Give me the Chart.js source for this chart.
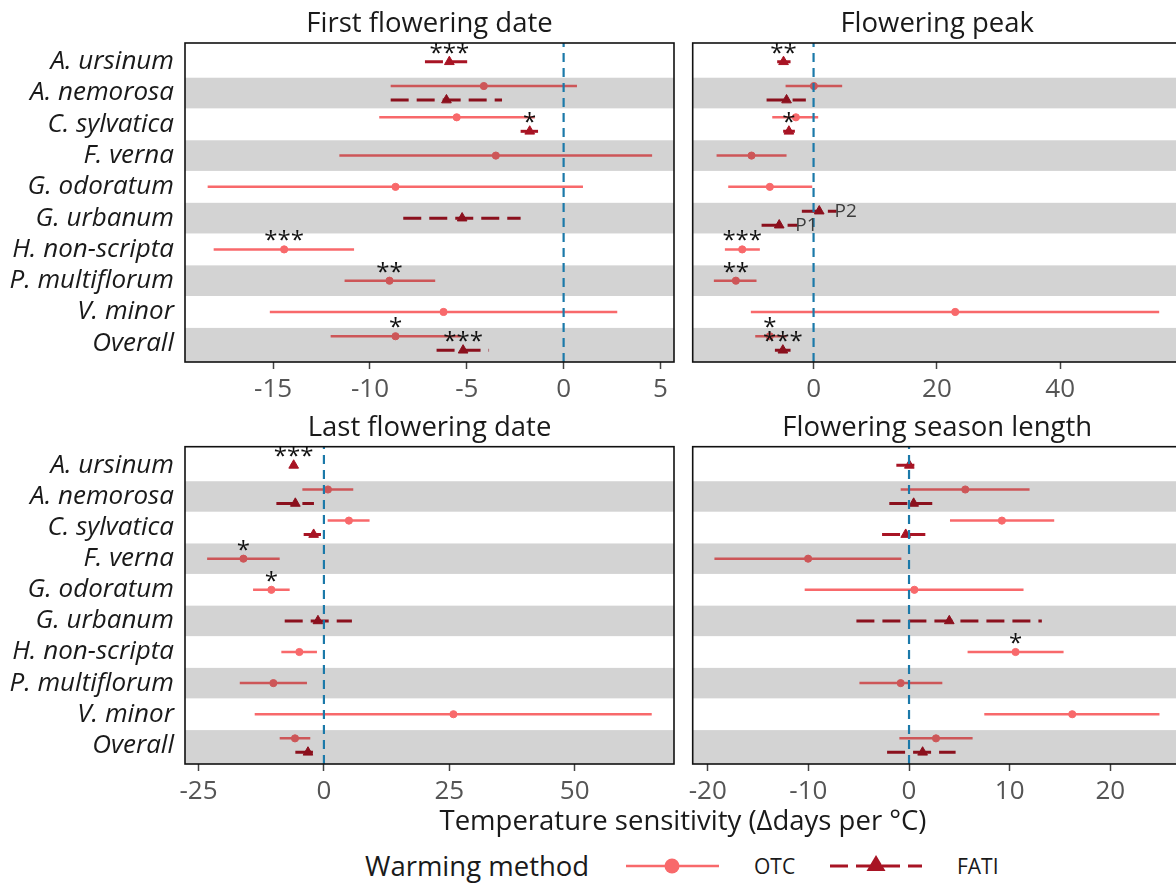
<!DOCTYPE html>
<html><head><meta charset="utf-8">
<script src="https://cdn.jsdelivr.net/npm/chart.js@4.4.1/dist/chart.umd.min.js"></script>
<style>
html,body{margin:0;padding:0;background:#fff;overflow:hidden;width:1176px;height:883px;}
#wrap{position:relative;width:1176px;height:883px;overflow:hidden;font-family:'Open Sans',sans-serif;}
canvas{position:absolute;}
.txt{position:absolute;white-space:nowrap;color:#1a1a1a;}
</style></head><body><div id="wrap">
<canvas id="c1" width="690" height="410" style="left:0;top:0"></canvas>
<canvas id="c2" width="520" height="410" style="left:680px;top:0"></canvas>
<canvas id="c3" width="690" height="410" style="left:0;top:400px"></canvas>
<canvas id="c4" width="520" height="410" style="left:680px;top:400px"></canvas>
<div class="txt" id="xtitle" style="left:683px;top:803px;font-size:27.5px;line-height:34px;transform:translateX(-50%);">Temperature sensitivity (Δdays per °C)</div>
<div class="txt" style="left:365px;top:850px;font-size:27.5px;line-height:32px;">Warming method</div>
<svg style="position:absolute;left:0;top:846px" width="1176" height="40">
 <line x1="626" y1="20" x2="719" y2="20" stroke="#F8696B" stroke-width="2.5"/>
 <circle cx="672" cy="20" r="7.5" fill="#F8696B"/>
 <line x1="830" y1="20" x2="922" y2="20" stroke="#A81424" stroke-width="3" stroke-dasharray="18 8"/>
 <polygon points="876,9 866.5,25 885.5,25" fill="#A81424"/>
</svg>
<div class="txt" style="left:754px;top:853px;font-size:21px;line-height:26px;">OTC</div>
<div class="txt" style="left:957px;top:853px;font-size:21px;line-height:26px;">FATI</div>
</div>
<script>
const FONT = "'Open Sans', sans-serif";
const OTC_COL = '#F8696B';
const FATI_COL = '#A81424';

const species = ["A. ursinum","A. nemorosa","C. sylvatica","F. verna","G. odoratum","G. urbanum","H. non-scripta","P. multiflorum","V. minor","Overall"];

const firstTicks = [-15,-10,-5,0,5];
const peakTicks = [0,20,40];
const lastTicks = [-25,0,25,50];
const lengthTicks = [-20,-10,0,10,20];

// First flowering date
const firstOtcEst = [null,-4.12,-5.52,-3.5,-8.68,null,-14.43,-8.99,-6.2,-8.68];
const firstOtcLo  = [null,-8.93,-9.52,-11.58,-18.38,null,-18.07,-11.31,-15.17,-12.03];
const firstOtcHi  = [null,0.69,-1.49,4.57,1.0,null,-10.82,-6.63,2.77,-5.31];
const firstOtcStars = [null,null,null,null,null,null,"***","**",null,"*"];
const firstFatiEst = [-5.9,-6.05,-1.75,null,null,-5.24,null,null,null,-5.19];
const firstFatiLo  = [-7.16,-8.93,-2.22,null,null,-8.28,null,null,null,-6.56];
const firstFatiHi  = [-4.98,-3.18,-1.32,null,null,-2.22,null,null,null,-3.85];
const firstFatiStars = ["***",null,"*",null,null,null,null,null,null,"***"];

// Flowering peak
const peakOtcEst = [null,0.05,-2.87,-10.06,-7.09,null,-11.57,-12.6,22.97,-7.1];
const peakOtcLo  = [null,-4.54,-6.7,-15.73,-13.84,null,-14.38,-16.17,-10.17,-9.46];
const peakOtcHi  = [null,4.64,0.75,-4.38,-0.22,null,-8.71,-9.25,56.05,-4.38];
const peakOtcStars = [null,null,null,null,null,null,"***","**",null,"*"];
const peakFatiEst = [-4.87,-4.38,-4.0,null,null,null,null,null,null,-4.98];
const peakFatiLo  = [-5.9,-7.62,-4.93,null,null,null,null,null,null,-6.27];
const peakFatiHi  = [-3.73,-1.25,-3.03,null,null,null,null,null,null,-3.73];
const peakFatiStars = ["**",null,"*",null,null,null,null,null,null,"***"];
const peakUrbanumLabels = ["P2","P1"];
const peakUrbanumEst = [0.92,-5.57];
const peakUrbanumLo  = [-1.9,-8.43];
const peakUrbanumHi  = [3.73,-2.65];

// Last flowering date
const lastOtcEst = [null,0.8,4.98,-16.05,-10.48,null,-4.9,-10.08,25.82,-5.77];
const lastOtcLo  = [null,-4.3,0.74,-23.29,-14.13,null,-8.49,-16.78,-13.8,-8.82];
const lastOtcHi  = [null,5.85,9.1,-8.82,-6.83,null,-1.39,-3.38,65.36,-2.72];
const lastOtcStars = [null,null,null,"*","*",null,null,null,null,null];
const lastFatiEst = [-6.03,-5.7,-2.05,null,null,-1.19,null,null,null,-3.18];
const lastFatiLo  = [-6.6,-9.48,-4.04,null,null,-7.82,null,null,null,-5.7];
const lastFatiHi  = [-5.5,-1.99,-0.59,null,null,5.58,null,null,null,-2.19];
const lastFatiStars = ["***",null,null,null,null,null,null,null,null,null];

// Flowering season length
const lengthOtcEst = [null,5.59,9.23,-10.03,0.53,null,10.59,-0.83,16.22,2.68];
const lengthOtcLo  = [null,-0.83,4.07,-19.34,-10.37,null,5.82,-4.93,7.48,-0.96];
const lengthOtcHi  = [null,11.98,14.43,-0.76,11.38,null,15.36,3.31,24.89,6.32];
const lengthOtcStars = [null,null,null,null,null,null,"*",null,null,null];
const lengthFatiEst = [0.03,0.46,-0.33,null,null,4.0,null,null,null,1.35];
const lengthFatiLo  = [-1.26,-1.96,-2.68,null,null,-5.23,null,null,null,-2.18];
const lengthFatiHi  = [1.3,2.31,1.62,null,null,13.2,null,null,null,4.63];
const lengthFatiStars = [null,null,null,null,null,null,null,null,null,null];

const DODGE = 0.224;
const STAR_DY = -1;

function buildMarks(o, f, extra){
  const marks = [];
  species.forEach((s,i)=>{
    const hasO = o.est[i]!=null;
    const hasF = f.est[i]!=null || (extra && extra.row===i);
    if(hasO) marks.push({kind:'otc', y:i+(hasF?-DODGE:0), est:o.est[i], lo:o.lo[i], hi:o.hi[i], star:o.stars[i]});
    if(f.est[i]!=null) marks.push({kind:'fati', y:i+(hasO?DODGE:0), est:f.est[i], lo:f.lo[i], hi:f.hi[i], star:f.stars[i]});
  });
  if(extra){
    extra.labels.forEach((lab,k)=>marks.push({kind:'fati', y:extra.row+(k===0?-DODGE:DODGE), est:extra.est[k], lo:extra.lo[k], hi:extra.hi[k], label:lab}));
  }
  return marks;
}

const decor = {
  id:'decor',
  afterDatasetsDraw(chart, args, o){
    const {ctx, chartArea:a, scales:{x,y}} = chart;
    ctx.save();
    ctx.beginPath(); ctx.rect(a.left,a.top,a.right-a.left,a.bottom-a.top); ctx.clip();
    ctx.fillStyle='rgba(0,0,0,0.172)';
    for(let i=1;i<species.length;i+=2){
      const t=y.getPixelForValue(i-0.49);
      const b=(i===species.length-1)?a.bottom:y.getPixelForValue(i+0.49);
      ctx.fillRect(a.left,t,a.right-a.left,b-t);
    }
    const zx=x.getPixelForValue(0);
    ctx.strokeStyle='#1b79a9'; ctx.lineWidth=2.2; ctx.setLineDash([9,6]);
    ctx.beginPath(); ctx.moveTo(zx,a.bottom); ctx.lineTo(zx,a.top); ctx.stroke();
    ctx.setLineDash([]);
    ctx.restore();
    ctx.save();
    ctx.fillStyle='#111'; ctx.font='24px '+FONT; ctx.textAlign='center'; ctx.textBaseline='alphabetic';
    o.marks.forEach(m=>{ if(m.star){ ctx.fillText(m.star, x.getPixelForValue(m.est), y.getPixelForValue(m.y)+STAR_DY); } });
    ctx.fillStyle='#3d3d3d'; ctx.font='19px '+FONT; ctx.textAlign='left'; ctx.textBaseline='middle';
    o.marks.forEach(m=>{ if(m.label){ ctx.fillText(m.label, x.getPixelForValue(m.hi)-2, y.getPixelForValue(m.y)); } });
    ctx.strokeStyle='#111'; ctx.lineWidth=1.6; ctx.strokeRect(a.left,a.top,a.right-a.left,a.bottom-a.top);
    ctx.fillStyle='#1a1a1a'; ctx.font='27.5px '+FONT; ctx.textAlign='center'; ctx.textBaseline='alphabetic';
    ctx.fillText(o.title,(a.left+a.right)/2,a.top-11);
    ctx.restore();
  }
};

function makeChart(id, cfg){
  const marks = cfg.marks;
  const datasets = [];
  marks.forEach(m=>{
    const otc = m.kind==='otc';
    datasets.push({type:'line', data:[{x:m.lo,y:m.y},{x:m.hi,y:m.y}], borderColor: otc?OTC_COL:FATI_COL,
      borderWidth: otc?2.5:3, borderDash: otc?[]:[18,8], borderCapStyle:'butt', pointRadius:0, order:2});
  });
  datasets.push({type:'line', showLine:false, order:0,
    data: marks.filter(m=>m.kind==='otc').map(m=>({x:m.est,y:m.y})),
    pointStyle:'circle', pointRadius:3.6, pointBackgroundColor:OTC_COL, pointBorderColor:OTC_COL, pointBorderWidth:1});
  datasets.push({type:'line', showLine:false, order:0,
    data: marks.filter(m=>m.kind==='fati').map(m=>({x:m.est,y:m.y})),
    pointStyle:'triangle', pointRadius:5.6, pointBackgroundColor:FATI_COL, pointBorderColor:FATI_COL, pointBorderWidth:1});
  return new Chart(document.getElementById(id), {
    type:'line',
    data:{datasets},
    options:{
      responsive:false, animation:false, devicePixelRatio:1, events:[],
      layout:{padding:{top:cfg.padTop, right:cfg.padRight, left:cfg.padLeft, bottom:0}},
      scales:{
        x:{type:'linear', min:cfg.xmin, max:cfg.xmax,
          afterBuildTicks:s=>{ s.ticks = cfg.ticks.map(v=>({value:v})); },
          afterFit:s=>{ s.height = cfg.xh; },
          ticks:{font:{family:FONT,size:26}, color:'#555', padding:5, maxRotation:0, autoSkip:false, callback:v=>String(v)},
          grid:{display:true, drawOnChartArea:false, drawTicks:true, tickLength:7, tickWidth:1.5, tickColor:'#444'},
          border:{display:false}},
        y:{type:'linear', reverse:true, min:-0.6, max:9.6, display:cfg.showY,
          afterBuildTicks:s=>{ s.ticks = species.map((_,i)=>({value:i})); },
          afterFit:s=>{ if(cfg.showY) s.width = cfg.yw; },
          ticks:{font:{family:FONT,size:26,style:'italic'}, color:'#1a1a1a', padding:11, callback:v=>species[v]},
          grid:{display:false, drawTicks:false}, border:{display:false}}
      },
      plugins:{legend:{display:false}, tooltip:{enabled:false}, decor:{title:cfg.title, marks}}
    },
    plugins:[decor]
  });
}

makeChart('c1', {title:'First flowering date', ticks:firstTicks, xmin:-19.55, xmax:5.7,
  padTop:43, padRight:16, padLeft:0, xh:48, showY:true, yw:185,
  marks: buildMarks({est:firstOtcEst,lo:firstOtcLo,hi:firstOtcHi,stars:firstOtcStars},
                    {est:firstFatiEst,lo:firstFatiLo,hi:firstFatiHi,stars:firstFatiStars})});
makeChart('c2', {title:'Flowering peak', ticks:peakTicks, xmin:-19.6, xmax:59.7,
  padTop:43, padRight:18.3, padLeft:12.7, xh:48, showY:false,
  marks: buildMarks({est:peakOtcEst,lo:peakOtcLo,hi:peakOtcHi,stars:peakOtcStars},
                    {est:peakFatiEst,lo:peakFatiLo,hi:peakFatiHi,stars:peakFatiStars},
                    {row:5, labels:peakUrbanumLabels, est:peakUrbanumEst, lo:peakUrbanumLo, hi:peakUrbanumHi})});
makeChart('c3', {title:'Last flowering date', ticks:lastTicks, xmin:-27.7, xmax:69.8,
  padTop:46.7, padRight:16, padLeft:0, xh:46, showY:true, yw:185,
  marks: buildMarks({est:lastOtcEst,lo:lastOtcLo,hi:lastOtcHi,stars:lastOtcStars},
                    {est:lastFatiEst,lo:lastFatiLo,hi:lastFatiHi,stars:lastFatiStars})});
makeChart('c4', {title:'Flowering season length', ticks:lengthTicks, xmin:-21.5, xmax:27.1,
  padTop:46.7, padRight:18.3, padLeft:12.7, xh:46, showY:false,
  marks: buildMarks({est:lengthOtcEst,lo:lengthOtcLo,hi:lengthOtcHi,stars:lengthOtcStars},
                    {est:lengthFatiEst,lo:lengthFatiLo,hi:lengthFatiHi,stars:lengthFatiStars})});
</script>
</body></html>
